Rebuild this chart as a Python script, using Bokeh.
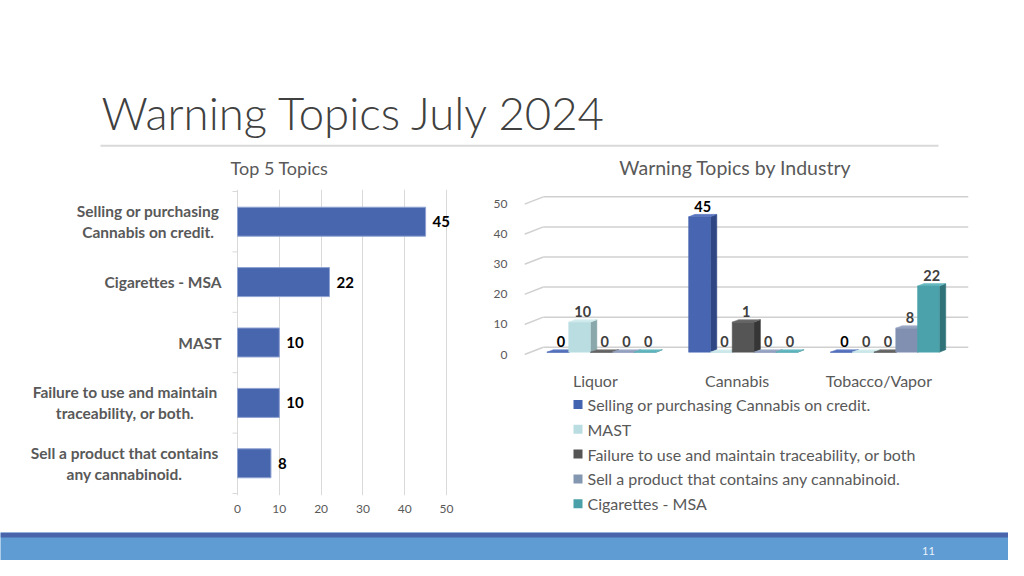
from bokeh.plotting import figure
from bokeh.layouts import column, row
from bokeh.models import (Range1d, Label, ColumnDataSource, FixedTicker, BoxAnnotation)
from bokeh.core.properties import value
from bokeh.embed import file_html
from bokeh.resources import INLINE

# ---------------- data ----------------
slide_title = "Warning Topics July 2024"
left_title = "Top 5 Topics"
right_title = "Warning Topics by Industry"
page_number = "11"

top5_topics = [
    ["Selling or purchasing", "Cannabis on credit."],
    ["Cigarettes - MSA"],
    ["MAST"],
    ["Failure to use and maintain", "traceability, or both."],
    ["Sell a product that contains", "any cannabinoid."],
]
top5_counts = [45, 22, 10, 10, 8]
top5_ticks = [0, 10, 20, 30, 40, 50]

industries = ["Liquor", "Cannabis", "Tobacco/Vapor"]
series_names = [
    "Selling or purchasing Cannabis on credit.",
    "MAST",
    "Failure to use and maintain traceability, or both",
    "Sell a product that contains any cannabinoid.",
    "Cigarettes - MSA",
]
selling_credit = [0, 45, 0]
mast = [10, 0, 0]
failure_trace = [0, 10, 0]
sell_cannabinoid = [0, 0, 8]
cigarettes_msa = [0, 0, 22]
# data labels as printed on the chart
selling_credit_labels = ["0", "45", "0"]
mast_labels = ["10", "0", "0"]
failure_trace_labels = ["0", "1", "0"]
sell_cannabinoid_labels = ["0", "0", "8"]
cigarettes_msa_labels = ["0", "0", "22"]
industry_ticks = [0, 10, 20, 30, 40, 50]

# ---------------- style / layout ----------------
FONT = "Lato"
TITLE_FONT = "Lato Light, Lato"
GRAY_TXT = "#595959"
GRID = "#d9d9d9"

PAGE_W = 1008
HEAD_H = 180
BODY_H = 352
FOOT_H = 28
LEFT_W = 490
RIGHT_W = PAGE_W - LEFT_W
CHART_H = 212
LEG_H = BODY_H - CHART_H

front_colors = ["#4765b0", "#b9dde1", "#555555", "#8190b0", "#4ba2ab"]
side_colors = ["#2f4684", "#8aa8ab", "#363636", "#5d6a86", "#2f7379"]
top_colors = ["#5a76c0", "#d3ecee", "#6a6a6a", "#9aa8c4", "#66b8c0"]
legend_colors = ["#4263b0", "#b9dde1", "#555555", "#8497b0", "#4aa0a8"]
label_colors = ["#000000", "#404040", "#404040", "#404040", "#404040"]


def blank(width, height):
    p = figure(width=width, height=height, x_range=Range1d(0, width),
               y_range=Range1d(height, 0), x_axis_type=None, y_axis_type=None,
               toolbar_location=None, output_backend="svg", min_border=0,
               outline_line_color=None)
    p.frame_align = False
    return p


# ---------------- header ----------------
head = blank(PAGE_W, HEAD_H)
head.add_layout(Label(x=101, y=112, text=slide_title, text_font=TITLE_FONT,
                      text_font_size="45.5px", text_color="#404040",
                      text_baseline="middle"))
head.add_layout(BoxAnnotation(left=100, right=938, top=144.2, bottom=146.2,
                              fill_color="#d9d9d9", fill_alpha=1, line_color=None))
head.add_layout(Label(x=279, y=167, text=left_title, text_font=FONT,
                      text_font_size="18px", text_color=GRAY_TXT,
                      text_align="center", text_baseline="middle"))
head.add_layout(Label(x=735, y=167, text=right_title, text_font=FONT,
                      text_font_size="19.5px", text_color=GRAY_TXT,
                      text_align="center", text_baseline="middle"))

# ---------------- left: top 5 topics ----------------
n = len(top5_counts)
ZERO_PX = 237.0                       # page x of value 0
L_SCALE = (446.0 - 237.0) / (top5_ticks[-1] - top5_ticks[0])   # px per unit
L_FL, L_FR = 20, 480                  # frame left / right (page x)
BAND_PX = (493.0 - 191.0) / n
L_FT = 189                            # frame top (page y)
L_FB = 495                            # frame bottom (page y)
pad = 2.0 / BAND_PX

left = figure(width=LEFT_W, height=BODY_H,
              x_range=Range1d((L_FL - ZERO_PX) / L_SCALE, (L_FR - ZERO_PX) / L_SCALE),
              y_range=Range1d(n + pad, -pad), y_axis_location=None,
              toolbar_location=None, output_backend="svg",
              min_border_left=L_FL, min_border_right=LEFT_W - L_FR,
              min_border_top=L_FT - HEAD_H, min_border_bottom=HEAD_H + BODY_H - L_FB,
              outline_line_color=None)
left.frame_align = False
ypos = [i + 0.5 for i in range(n)]
lsrc = ColumnDataSource(dict(y=ypos, v=top5_counts, lab=[str(c) for c in top5_counts]))

left.xgrid.ticker = FixedTicker(ticks=top5_ticks)
left.xgrid.grid_line_color = GRID
left.ygrid.grid_line_color = None
# small category-boundary ticks left of the value axis
bounds = list(range(n + 1))
left.segment(x0=[-5.0 / L_SCALE] * len(bounds), y0=bounds, x1=[0] * len(bounds), y1=bounds,
             line_color=GRID, line_width=1)

left.hbar(y="y", left=0, right="v", height=0.48, source=lsrc,
          fill_color="#4866ae", line_color="#8ea2d2", line_width=1)
left.text(x="v", y="y", text="lab", source=lsrc, x_offset=7,
          text_align="left", text_baseline="middle",
          text_font=value(FONT), text_font_style="bold",
          text_font_size="15px", text_color="#000000")

left.xaxis.ticker = FixedTicker(ticks=top5_ticks)
left.xaxis.axis_line_color = None
left.xaxis.major_tick_line_color = None
left.xaxis.minor_tick_line_color = None
left.xaxis.major_label_standoff = 3
left.xaxis.major_label_text_font = FONT
left.xaxis.major_label_text_font_size = "12px"
left.xaxis.major_label_text_color = GRAY_TXT

LABEL_RIGHT_PX = 221
LABEL_CENTER_PX = [147.5, None, None, 124.5, 124]


def lx(px):
    return (px - ZERO_PX) / L_SCALE


for i, lines in enumerate(top5_topics):
    if len(lines) == 1:
        left.add_layout(Label(x=lx(LABEL_RIGHT_PX), y=ypos[i], text=lines[0],
                              text_align="right", text_baseline="middle",
                              text_font=FONT, text_font_style="bold",
                              text_font_size="15.5px", text_color=GRAY_TXT))
    else:
        for k, line in enumerate(lines):
            left.add_layout(Label(x=lx(LABEL_CENTER_PX[i]), y=ypos[i], text=line,
                                  y_offset=10.5 if k == 0 else -10.5,
                                  text_align="center", text_baseline="middle",
                                  text_font=FONT, text_font_style="bold",
                                  text_font_size="15.5px", text_color=GRAY_TXT))

# ---------------- right: warning topics by industry (pseudo 3D) ----------------
R_FL, R_FR = 520, 968                 # frame left/right (page x)
R_FT, R_FB = 190, 360                 # frame top/bottom (page y)
ZERO_PY = 358.0                       # page y of value 0 (front plane)
CAT_PX = 143.0
VAL_PX = 3.08
BACK_X = 19.0 / CAT_PX
BACK_Y = 7.5 / VAL_PX
ncat = len(industries)
right = figure(width=RIGHT_W, height=CHART_H,
               x_range=Range1d(0, ncat + BACK_X),
               y_range=Range1d((ZERO_PY - R_FB) / VAL_PX, (ZERO_PY - R_FT) / VAL_PX),
               toolbar_location=None, output_backend="svg",
               min_border_left=R_FL - LEFT_W, min_border_right=LEFT_W + RIGHT_W - R_FR,
               min_border_top=R_FT - HEAD_H, min_border_bottom=HEAD_H + CHART_H - R_FB,
               outline_line_color=None)
right.frame_align = False
right.grid.grid_line_color = None

# 3D gridlines: slanted side-wall edge + back-wall line
gx0 = [0.0] * len(industry_ticks)
gx1 = [BACK_X] * len(industry_ticks)
gx2 = [ncat + BACK_X] * len(industry_ticks)
gyb = [v + BACK_Y for v in industry_ticks]
right.segment(x0=gx0, y0=industry_ticks, x1=gx1, y1=gyb, line_color="#d0d0d0", line_width=1.5)
right.segment(x0=gx1, y0=gyb, x1=gx2, y1=gyb, line_color="#d0d0d0", line_width=1.5)

series_vals = [selling_credit, mast, failure_trace, sell_cannabinoid, cigarettes_msa]
series_labs = [selling_credit_labels, mast_labels, failure_trace_labels,
               sell_cannabinoid_labels, cigarettes_msa_labels]
nser = len(series_vals)
BW = 22.0 / CAT_PX
GAP_HALF = (1 - nser * BW) / 2
F0, F1 = 0.32, 0.66
ddx = (F1 - F0) * BACK_X
ddy = (F1 - F0) * BACK_Y

for j, vals in enumerate(series_vals):
    x0 = [i + GAP_HALF + j * BW + F0 * BACK_X for i in range(ncat)]
    x1 = [a + BW for a in x0]
    yb = [F0 * BACK_Y] * ncat
    yt = [v + F0 * BACK_Y for v in vals]
    side_xs = [[b, b + ddx, b + ddx, b] for b in x1]
    side_ys = [[lo, lo + ddy, hi + ddy, hi] for lo, hi in zip(yb, yt)]
    top_xs = [[a, b, b + ddx, a + ddx] for a, b in zip(x0, x1)]
    top_ys = [[hi, hi, hi + ddy, hi + ddy] for hi in yt]
    right.patches(xs=side_xs, ys=side_ys, fill_color=side_colors[j],
                  line_color=side_colors[j], line_width=0.5)
    right.patches(xs=top_xs, ys=top_ys, fill_color=top_colors[j],
                  line_color=top_colors[j], line_width=0.5)
    right.quad(left=x0, right=x1, bottom=yb, top=yt, fill_color=front_colors[j],
               line_color=front_colors[j], line_width=0.5)
    lab_src = ColumnDataSource(dict(x=[(a + b) / 2 + ddx / 2 for a, b in zip(x0, x1)],
                                    y=[hi + ddy for hi in yt], t=series_labs[j]))
    right.text(x="x", y="y", text="t", source=lab_src, y_offset=-8,
               text_align="center", text_baseline="middle",
               text_font=value(FONT), text_font_style="bold",
               text_font_size="14.5px", text_color=label_colors[j])

right.yaxis.ticker = FixedTicker(ticks=industry_ticks)
right.yaxis.axis_line_color = None
right.yaxis.major_tick_line_color = None
right.yaxis.minor_tick_line_color = None
right.yaxis.major_label_standoff = 11
right.yaxis.major_label_text_font = FONT
right.yaxis.major_label_text_font_size = "12px"
right.yaxis.major_label_text_color = GRAY_TXT

cat_ticks = [i + 0.5 for i in range(ncat)]
right.xaxis.ticker = FixedTicker(ticks=cat_ticks)
right.xaxis.major_label_overrides = {t: name for t, name in zip(cat_ticks, industries)}
right.xaxis.axis_line_color = None
right.xaxis.major_tick_line_color = None
right.xaxis.minor_tick_line_color = None
right.xaxis.major_label_standoff = 8
right.xaxis.major_label_text_font = FONT
right.xaxis.major_label_text_font_size = "16px"
right.xaxis.major_label_text_color = GRAY_TXT

# ---------------- legend panel under the right chart ----------------
leg = blank(RIGHT_W, LEG_H)
LEG_SW_X = 87.5          # swatch centre (panel px)
LEG_TXT_X = 97           # label start (panel px)
LEG_Y0, LEG_DY, LEG_SW = 12.0, 24.8, 9
leg_src = ColumnDataSource(dict(
    y=[LEG_Y0 + LEG_DY * j for j in range(nser)],
    name=series_names, color=legend_colors))
leg.rect(x=LEG_SW_X, y="y", width=LEG_SW, height=LEG_SW, source=leg_src,
         fill_color="color", line_color=None)
leg.text(x=LEG_TXT_X, y="y", text="name", source=leg_src, text_align="left",
         text_baseline="middle", text_font=value(FONT), text_font_size="16px",
         text_color=GRAY_TXT)

# ---------------- footer ----------------
foot = blank(PAGE_W, FOOT_H)
foot.background_fill_color = "#5f9cd3"
foot.border_fill_color = "#5f9cd3"
foot.add_layout(BoxAnnotation(top=0, bottom=5, fill_color="#4a64ab", fill_alpha=1,
                              line_color=None))
foot.add_layout(Label(x=928, y=18, text=page_number, text_font=FONT,
                      text_font_size="11px", text_color="#eaf2fb",
                      text_align="center", text_baseline="middle"))

page = column(head, row(left, column(right, leg)), foot)
open("out.html", "w").write(file_html(page, INLINE))
